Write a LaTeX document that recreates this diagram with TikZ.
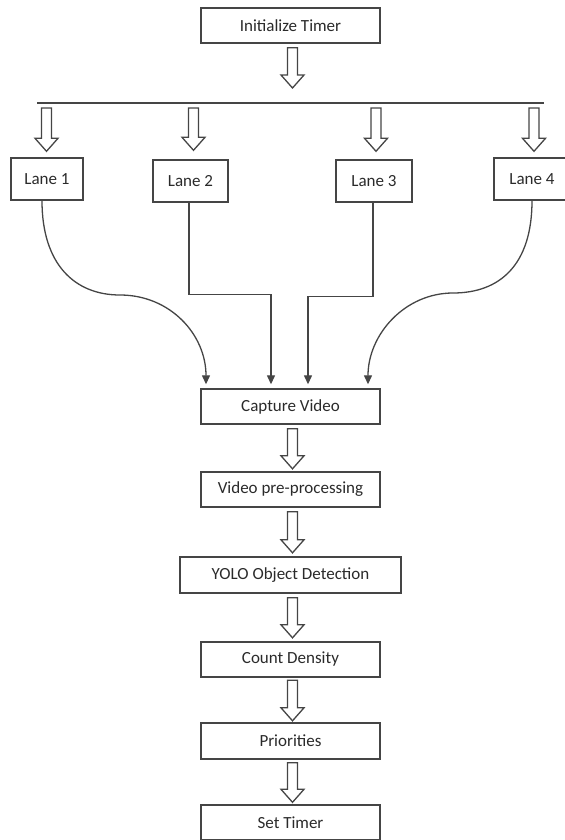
\documentclass[tikz,border=0pt]{standalone}
\usepackage{fontspec}
\setmainfont{Carlito}
\usetikzlibrary{arrows.meta,calc}
\definecolor{ln}{HTML}{454545}
\definecolor{tx}{HTML}{2A2A2A}
\tikzset{
 box/.style={draw=ln, line width=1.4bp, text=tx, font=\fontsize{17bp}{20bp}\selectfont, inner sep=0pt, minimum height=35bp, minimum width=179bp},
 lanebox/.style={box, minimum height=42bp},
 conn/.style={draw=ln, line width=1.3bp, -{Triangle[length=9bp,width=8bp]}},
 hol/.style={draw=ln, line width=1.3bp, fill=white, line join=miter},
 busline/.style={draw=ln, line width=1.6bp}
}
\newcommand\harrow[2]{\draw[hol] ($(#1)+(-5bp,0)$) -- ($(#2)+(-5bp,13bp)$) -- ($(#2)+(-11.5bp,13bp)$) -- (#2) -- ($(#2)+(11.5bp,13bp)$) -- ($(#2)+(5bp,13bp)$) -- ($(#1)+(5bp,0)$) -- cycle;}
\begin{document}
\begin{tikzpicture}[x=1bp,y=-1bp]
\useasboundingbox (0,0) rectangle (565,840);
% boxes
\node[box] (init) at (290.5,25.5) {Initialize Timer};
\node[lanebox, minimum width=72bp] (lane1) at (47,179) {Lane 1};
\node[lanebox, minimum width=75bp] (lane2) at (190.5,181) {Lane 2};
\node[lanebox, minimum width=76bp] (lane3) at (374,181) {Lane 3};
\node[lanebox, minimum width=76bp] (lane4) at (532,179) {Lane 4};
\node[box] (cap) at (290.5,406.5) {Capture Video};
\node[box] (pre) at (290.5,489.5) {Video pre-processing};
\node[box, minimum width=221bp, minimum height=36bp] (yolo) at (290.5,575) {YOLO Object Detection};
\node[box] (cnt) at (290.5,659.5) {Count Density};
\node[box, minimum height=36bp] (pri) at (290.5,741) {Priorities};
\node[box] (set) at (290.5,822.5) {Set Timer};
% bus line
\coordinate (busL) at (37,103);
\coordinate (busR) at (544,103);
\draw[busline] (busL) -- (busR);
% init -> bus
\coordinate (i1) at ([xshift=2bp,yshift=-4bp]init.south);
\path (i1 |- busL) ++(0,15bp) coordinate (i2);
\harrow{i1}{i2}
% bus -> lanes
\path (lane1.north |- busL) ++(-0.5bp,-5bp) coordinate (l1a);
\path (lane1.north) ++(-0.5bp,6bp) coordinate (l1b);
\harrow{l1a}{l1b}
\path (lane2.north |- busL) ++(3bp,-5bp) coordinate (l2a);
\path (lane2.north) ++(3bp,9bp) coordinate (l2b);
\harrow{l2a}{l2b}
\path (lane3.north |- busL) ++(2bp,-5bp) coordinate (l3a);
\path (lane3.north) ++(2bp,8bp) coordinate (l3b);
\harrow{l3a}{l3b}
\path (lane4.north |- busL) ++(2bp,-5bp) coordinate (l4a);
\path (lane4.north) ++(2bp,6bp) coordinate (l4b);
\harrow{l4a}{l4b}
% lanes -> capture
\draw[conn] ([xshift=-5bp]lane1.south) .. controls +(0,-64bp) and +(-45bp,0) .. (120,295) .. controls +(50bp,0) and +(0,50bp) .. ([xshift=-84.5bp,yshift=4bp]cap.north);
\draw[conn] ([xshift=-1.5bp]lane2.south) -- ++(0,-92bp) -| ([xshift=-19.5bp,yshift=4bp]cap.north);
\draw[conn] ([xshift=-1bp]lane3.south) -- ++(0,-94bp) -| ([xshift=17.5bp,yshift=4bp]cap.north);
\draw[conn] (lane4.south) .. controls +(0,-64bp) and +(47bp,0) .. (453,293) .. controls +(-48bp,0) and +(0,50bp) .. ([xshift=77.5bp,yshift=4bp]cap.north);
% vertical chain
\coordinate (c1) at ([xshift=2bp,yshift=-4bp]cap.south);
\coordinate (c2) at ([xshift=2bp,yshift=2.5bp]pre.north);
\harrow{c1}{c2}
\coordinate (p1) at ([xshift=2bp,yshift=-4bp]pre.south);
\coordinate (p2) at ([xshift=2bp,yshift=3.5bp]yolo.north);
\harrow{p1}{p2}
\coordinate (y1) at ([xshift=2bp,yshift=-4bp]yolo.south);
\coordinate (y2) at ([xshift=2bp,yshift=3.5bp]cnt.north);
\harrow{y1}{y2}
\coordinate (n1) at ([xshift=2bp,yshift=-2.5bp]cnt.south);
\coordinate (n2) at ([xshift=2bp,yshift=1.5bp]pri.north);
\harrow{n1}{n2}
\coordinate (r1) at ([xshift=2bp,yshift=-3bp]pri.south);
\coordinate (r2) at ([xshift=2bp,yshift=2bp]set.north);
\harrow{r1}{r2}
\end{tikzpicture}
\end{document}
